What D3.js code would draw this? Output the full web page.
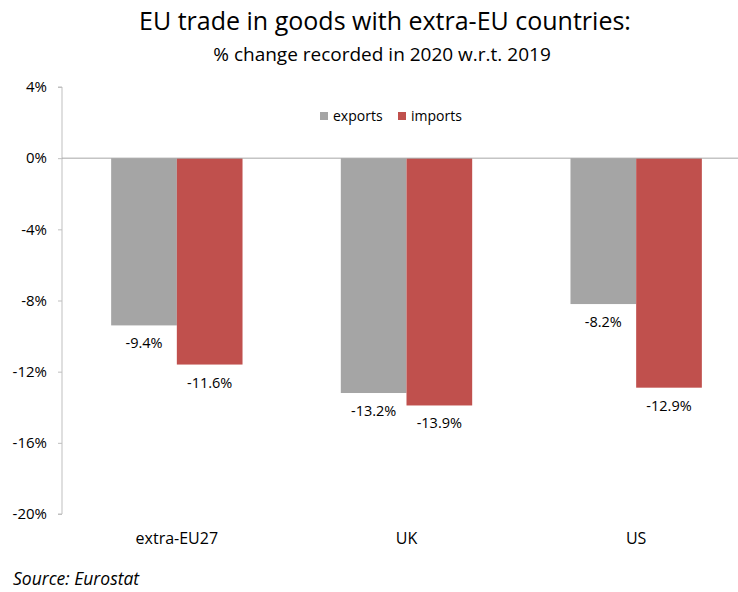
<!DOCTYPE html>
<html>
<head>
<meta charset="utf-8">
<script src="https://cdn.jsdelivr.net/npm/d3@7"></script>
<style>
  html, body { margin: 0; padding: 0; background: #fff; }
  svg { display: block; font-family: "Open Sans", sans-serif; }
</style>
</head>
<body>
<svg id="chart" width="738" height="592"></svg>
<script>
// Data: % change of EU trade in goods, 2020 vs 2019
const partners = ["extra-EU27", "UK", "US"];
const seriesNames = ["exports", "imports"];
const exportsChange = [-9.4, -13.2, -8.2];
const importsChange = [-11.6, -13.9, -12.9];
const yTicks = [4, 0, -4, -8, -12, -16, -20];
const seriesColors = ["#a5a5a5", "#c0504d"];

const svg = d3.select("#chart");
const W = 738, H = 592;

const plot = { left: 62, right: 751, top: 87, bottom: 514 };

const y = d3.scaleLinear().domain([-20, 4]).range([plot.bottom, plot.top]);
const x0 = d3.scaleBand().domain(partners).range([plot.left, plot.right])
  .paddingInner(0.428).paddingOuter(0.214);
const x1 = d3.scaleBand().domain(seriesNames).range([0, x0.bandwidth()]);

const rows = partners.map((p, i) => ({
  partner: p,
  values: [
    { series: "exports", value: exportsChange[i] },
    { series: "imports", value: importsChange[i] }
  ]
}));

// Titles
svg.append("text").attr("x", 385).attr("y", 30).attr("text-anchor", "middle")
  .attr("font-size", 25).attr("fill", "#000")
  .text("EU trade in goods with extra-EU countries:");
svg.append("text").attr("x", 382).attr("y", 61).attr("text-anchor", "middle")
  .attr("font-size", 19).attr("fill", "#000")
  .text("% change recorded in 2020 w.r.t. 2019");

// Y axis
const yAxis = d3.axisLeft(y).tickValues(yTicks).tickSize(4).tickPadding(11)
  .tickFormat(d => d + "%");
const gy = svg.append("g").attr("transform", `translate(${plot.left},0)`).call(yAxis);
gy.select(".domain").attr("stroke", "#bfbfbf").attr("d", `M-4,${y(4)}H0V${y(-20)}H-4`);
gy.selectAll(".tick line").attr("stroke", "#bfbfbf");
gy.selectAll(".tick text").attr("font-size", 15).attr("fill", "#000")
  .attr("font-family", "Open Sans, sans-serif");

// Bars
const groups = svg.append("g").selectAll("g").data(rows).join("g")
  .attr("transform", d => `translate(${x0(d.partner)},0)`);

groups.selectAll("rect").data(d => d.values).join("rect")
  .attr("x", d => x1(d.series))
  .attr("width", x1.bandwidth())
  .attr("y", d => y(Math.max(0, d.value)))
  .attr("height", d => Math.abs(y(d.value) - y(0)))
  .attr("fill", (d, i) => seriesColors[i]);

groups.selectAll("text.val").data(d => d.values).join("text")
  .attr("class", "val")
  .attr("x", d => x1(d.series) + x1.bandwidth() / 2)
  .attr("y", d => y(d.value) + 23)
  .attr("text-anchor", "middle")
  .attr("font-size", 14.5).attr("fill", "#000")
  .text(d => d.value.toFixed(1) + "%");

// Zero line
svg.append("line")
  .attr("x1", plot.left).attr("x2", W)
  .attr("y1", y(0)).attr("y2", y(0))
  .attr("stroke", "#a6a6a6").attr("stroke-width", 1);

// Category labels
svg.append("g").selectAll("text").data(partners).join("text")
  .attr("x", d => x0(d) + x0.bandwidth() / 2)
  .attr("y", 544)
  .attr("text-anchor", "middle")
  .attr("font-size", 16).attr("fill", "#000")
  .text(d => d);

// Legend
const legendItems = [
  { name: "exports", x: 320 },
  { name: "imports", x: 398 }
];
const lg = svg.append("g");
legendItems.forEach((it, i) => {
  lg.append("rect").attr("x", it.x).attr("y", 112).attr("width", 8).attr("height", 8)
    .attr("fill", seriesColors[i]);
  lg.append("text").attr("x", it.x + 13).attr("y", 121)
    .attr("font-size", 14).attr("fill", "#000").text(it.name);
});

// Source note
svg.append("text").attr("x", 13).attr("y", 585)
  .attr("font-size", 17.5).attr("font-style", "italic").attr("fill", "#000")
  .text("Source: Eurostat");
</script>
</body>
</html>
